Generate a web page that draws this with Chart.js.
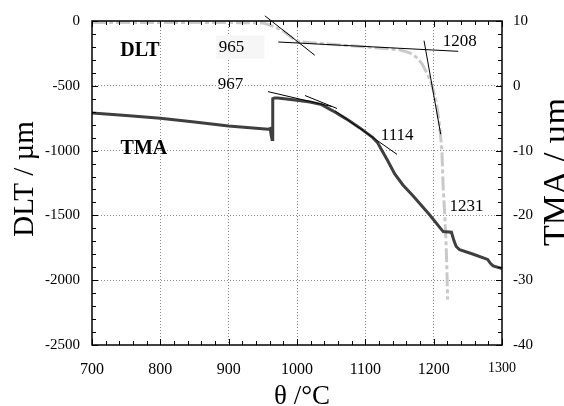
<!DOCTYPE html>
<html>
<head>
<meta charset="utf-8">
<script src="https://cdn.jsdelivr.net/npm/chart.js@4.4.1/dist/chart.umd.min.js"></script>
<style>
    html, body { margin: 0; padding: 0; background: #fff; }
    #wrap { width: 564px; height: 406px; }
</style>
</head>
<body>
<div id="wrap"><canvas id="chart" width="564" height="406"></canvas></div>
<script>
// TMA curve (right axis, µm)
const tmaTemp = [700, 750, 800, 850, 900, 940, 958, 961, 962, 963.5, 964.5, 967, 972, 994, 1019, 1036, 1053, 1072, 1092,
    1111, 1118, 1126, 1133, 1143, 1155, 1170, 1194, 1210, 1214, 1226, 1230, 1233, 1238, 1258, 1279, 1283, 1287, 1300];
const tmaValues = [-4.2, -4.6, -5.0, -5.6, -6.2, -6.55, -6.7, -6.6, -7.5, -8.3, -2.0, -1.9, -1.9, -2.15, -2.5, -2.9, -3.9, -5.1, -6.5,
    -8.0, -8.8, -10.3, -11.6, -13.6, -15.3, -17.0, -19.9, -22.0, -22.5, -22.6, -24.0, -24.8, -25.3, -26.0, -26.8, -27.4, -27.8, -28.2];

// DLT curve (left axis, µm)
const dltTemp = [700, 800, 900, 950, 960, 979, 1000, 1050, 1100, 1150, 1165, 1175, 1183, 1190, 1195, 1200, 1204, 1208,
    1210, 1212, 1213, 1214, 1216, 1218, 1219, 1220.5];
const dltValues = [-12, -12, -12, -15, -30, -74, -158, -180, -200, -222, -245, -280, -330, -400, -460, -540, -630, -780,
    -880, -1000, -1150, -1300, -1470, -1700, -1850, -2150];

// tangent construction lines: [T1, v1, T2, v2]
const dltTangents = [
    [953, 40, 1026, -264],
    [972.6, -162, 1236, -234],
    [1185.9, -152, 1210.3, -874]
];
const tmaTangents = [
    [957.6, -0.9, 1051, -3.2],
    [1011.7, -1.5, 1058.5, -3.5],
    [1055.6, -3.87, 1146.3, -10.58]
];

// text labels placed in DLT axis coordinates
const labelText = ['DLT', 'TMA', '965', '967', '1208', '1114', '1231'];
const labelTemp = [770, 776, 904, 902.5, 1238, 1146.6, 1248];
const labelDlt = [-229, -988, -206, -493, -160, -886, -1433];
const labelBold = [true, true, false, false, false, false, false];

const xTicks = [700, 800, 900, 1000, 1100, 1200, 1300];
const dltTicks = [0, -500, -1000, -1500, -2000, -2500];
const tmaTicks = [10, 0, -10, -20, -30, -40];

const SERIF = "'Liberation Serif', 'Times New Roman', serif";

function toPoints(xs, ys) {
    return xs.map((x, i) => ({ x: x, y: ys[i] }));
}

function tangentSet(t, axis) {
    return {
        data: [{ x: t[0], y: t[1] }, { x: t[2], y: t[3] }],
        yAxisID: axis,
        borderColor: '#000',
        borderWidth: 1,
        pointRadius: 0,
        clip: false,
        order: 0
    };
}

const datasets = [];
dltTangents.forEach(t => datasets.push(tangentSet(t, 'yDlt')));
tmaTangents.forEach(t => datasets.push(tangentSet(t, 'yTma')));
datasets.push({
    label: 'TMA',
    data: toPoints(tmaTemp, tmaValues),
    yAxisID: 'yTma',
    borderColor: '#3f3f3f',
    borderWidth: 3,
    pointRadius: 0,
    order: 1
});
datasets.push({
    label: 'DLT',
    data: toPoints(dltTemp, dltValues),
    yAxisID: 'yDlt',
    borderColor: '#c9c9c9',
    borderWidth: 3,
    borderDash: [14, 3, 4, 3],
    pointRadius: 0,
    order: 2
});

const gridColor = (ctx, lo, hi) => {
    const v = ctx.tick ? ctx.tick.value : null;
    return (v !== null && v > lo && v < hi) ? '#8a8a8a' : 'rgba(0,0,0,0)';
};

const plainLabel = value => String(value);

// frame, minor ticks, axis titles and labels
const decorations = {
    id: 'decorations',
    afterDraw(chart) {
        const ctx = chart.ctx;
        const a = chart.chartArea;
        const x = chart.scales.x;
        const yL = chart.scales.yDlt;
        const yR = chart.scales.yTma;
        ctx.save();
        ctx.strokeStyle = '#000';
        ctx.lineWidth = 1.5;
        ctx.strokeRect(a.left, a.top, a.right - a.left, a.bottom - a.top);

        ctx.lineWidth = 1;
        ctx.beginPath();
        for (let t = 700; t <= 1300; t += 20) {
            const px = Math.round(x.getPixelForValue(t)) + 0.5;
            const len = t % 100 === 0 ? 6 : 4;
            ctx.moveTo(px, a.bottom); ctx.lineTo(px, a.bottom - len);
            ctx.moveTo(px, a.top); ctx.lineTo(px, a.top + len);
        }
        for (let v = 0; v >= -2500; v -= 100) {
            const py = Math.round(yL.getPixelForValue(v)) + 0.5;
            const len = v % 500 === 0 ? 6 : 4;
            ctx.moveTo(a.left, py); ctx.lineTo(a.left + len, py);
        }
        for (let v = 10; v >= -40; v -= 2) {
            const py = Math.round(yR.getPixelForValue(v)) + 0.5;
            const len = v % 10 === 0 ? 6 : 4;
            ctx.moveTo(a.right, py); ctx.lineTo(a.right - len, py);
        }
        ctx.stroke();

        ctx.fillStyle = '#000';
        // axis titles
        ctx.textAlign = 'center';
        ctx.textBaseline = 'alphabetic';
        ctx.font = '29px ' + SERIF;
        ctx.save();
        ctx.translate(33, 179);
        ctx.rotate(-Math.PI / 2);
        ctx.fillText('DLT / µm', 0, 0);
        ctx.restore();

        ctx.font = '34px ' + SERIF;
        ctx.save();
        ctx.translate(566, 172);
        ctx.rotate(-Math.PI / 2);
        ctx.fillText('TMA / µm', 0, 0);
        ctx.restore();

        ctx.font = '27px ' + SERIF;
        ctx.fillText('θ /°C', 302, 404);

        // curve labels
        ctx.textBaseline = 'middle';
        labelText.forEach((txt, i) => {
            const px = x.getPixelForValue(labelTemp[i]);
            const py = yL.getPixelForValue(labelDlt[i]);
            ctx.font = (labelBold[i] ? 'bold 20px ' : '17px ') + SERIF;
            if (txt === '965') {
                ctx.fillStyle = '#f6f6f6';
                ctx.fillRect(px - 15, py - 12, 48, 23);
                ctx.fillStyle = '#000';
            }
            ctx.fillText(txt, px, py);
        });
        ctx.restore();
    }
};

new Chart(document.getElementById('chart').getContext('2d'), {
    type: 'line',
    data: { datasets: datasets },
    options: {
        responsive: false,
        animation: false,
        layout: { padding: { top: 17, left: 0, right: 0, bottom: 0 } },
        plugins: {
            legend: { display: false },
            tooltip: { enabled: false }
        },
        scales: {
            x: {
                type: 'linear',
                position: 'bottom',
                min: 700,
                max: 1300,
                afterBuildTicks: scale => { scale.ticks = xTicks.map(v => ({ value: v })); },
                afterFit: scale => { scale.height = 61; },
                ticks: {
                    color: '#000',
                    padding: 15,
                    maxRotation: 0,
                    autoSkip: false,
                    callback: plainLabel,
                    font: ctx => ({ family: SERIF, size: ctx.tick && ctx.tick.value === 1300 ? 14 : 16 })
                },
                grid: {
                    color: ctx => gridColor(ctx, 700, 1300),
                    lineWidth: 1,
                    drawTicks: false
                },
                border: { display: false, dash: [1, 2] }
            },
            yDlt: {
                type: 'linear',
                position: 'left',
                min: -2500,
                max: 0,
                afterBuildTicks: scale => { scale.ticks = dltTicks.map(v => ({ value: v })); },
                afterFit: scale => { scale.width = 92; },
                ticks: {
                    color: '#000',
                    padding: 12,
                    callback: plainLabel,
                    font: { family: SERIF, size: 15 }
                },
                grid: {
                    color: ctx => gridColor(ctx, -2500, 0),
                    lineWidth: 1,
                    drawTicks: false
                },
                border: { display: false, dash: [1, 2] }
            },
            yTma: {
                type: 'linear',
                position: 'right',
                min: -40,
                max: 10,
                afterBuildTicks: scale => { scale.ticks = tmaTicks.map(v => ({ value: v })); },
                afterFit: scale => { scale.width = 62; },
                ticks: {
                    color: '#000',
                    padding: 11,
                    callback: plainLabel,
                    font: { family: SERIF, size: 15 }
                },
                grid: { display: false, drawTicks: false },
                border: { display: false }
            }
        }
    },
    plugins: [decorations]
});
</script>
</body>
</html>
